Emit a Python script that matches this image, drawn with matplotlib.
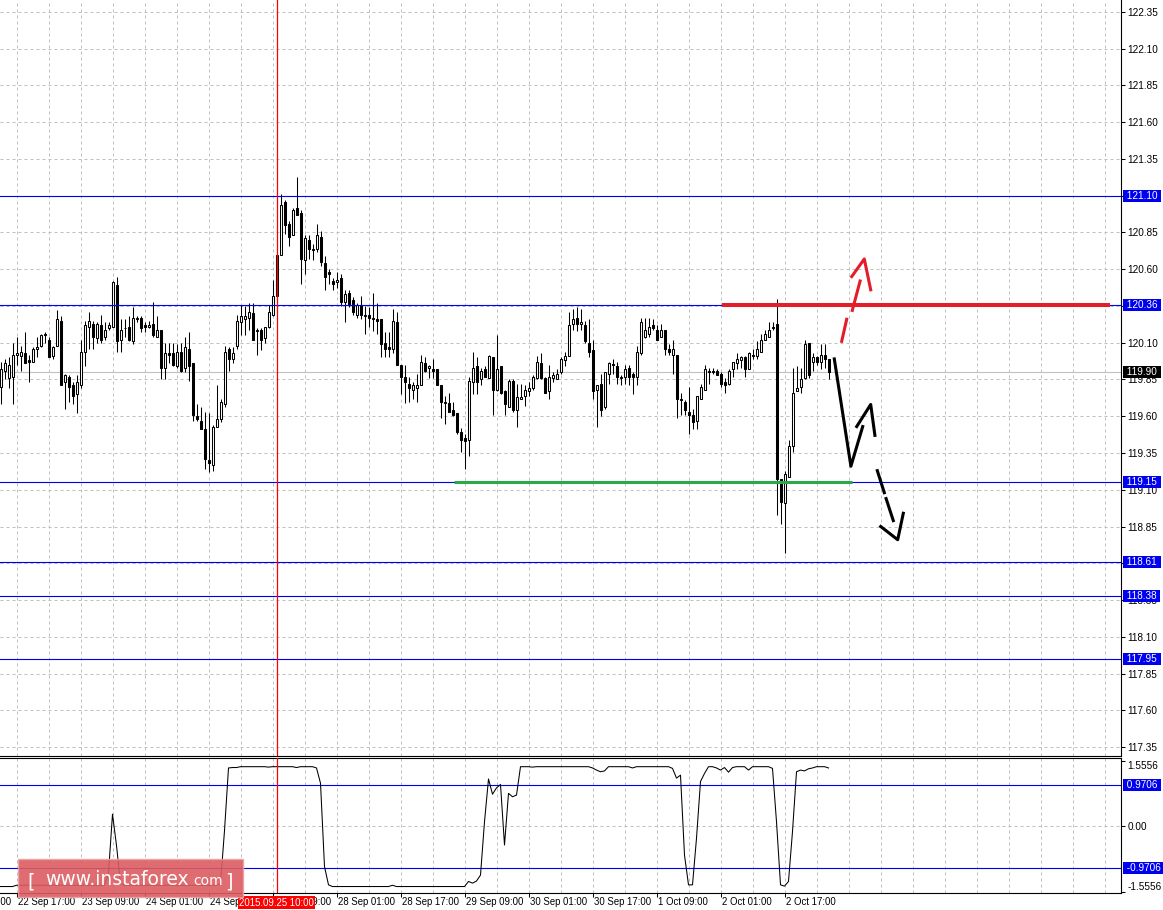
import matplotlib
matplotlib.use('Agg')
import matplotlib.pyplot as plt
import matplotlib.transforms as mtransforms
from matplotlib.patches import FancyBboxPatch
import numpy as np

# ---- H1 candles (bar index 0 = 22 Sep 13:00) ----
opens = [119.80, 119.91, 119.86, 119.87, 120.02, 120.01, 120.03, 119.98, 119.97, 120.06,
         120.08, 120.16, 120.12, 120.01, 120.08, 120.25, 119.83, 119.87, 119.81, 119.75,
         119.81, 120.04, 120.21, 120.23, 120.13, 120.22, 120.14, 120.20, 120.21, 120.49,
         120.12, 120.20, 120.21, 120.11, 120.26, 120.27, 120.22, 120.21, 120.23, 120.14,
         120.19, 119.93, 120.03, 120.03, 119.94, 120.04, 119.93, 120.06, 119.96, 119.60,
         119.57, 119.51, 119.30, 119.27, 119.53, 119.58, 119.68, 120.06, 119.99, 120.08,
         120.24, 120.26, 120.27, 120.30, 120.18, 120.19, 120.13, 120.21, 120.29, 120.42,
         120.70, 121.06, 120.91, 120.83, 121.02, 120.98, 120.66, 120.80, 120.74, 120.74,
         120.82, 120.64, 120.58, 120.52, 120.51, 120.54, 120.38, 120.44, 120.39, 120.29,
         120.36, 120.29, 120.29, 120.26, 120.26, 120.26, 120.10, 120.07, 120.06, 120.24,
         119.95, 119.87, 119.82, 119.78, 119.79, 119.81, 119.96, 119.93, 119.92, 119.92,
         119.81, 119.69, 119.69, 119.64, 119.62, 119.49, 119.45, 119.44, 119.83, 119.94,
         119.85, 119.92, 119.86, 120.00, 119.78, 119.94, 119.77, 119.66, 119.84, 119.64,
         119.72, 119.74, 119.77, 119.79, 119.86, 119.96, 119.86, 119.77, 119.86, 119.85,
         119.90, 119.98, 120.01, 120.23, 120.27, 120.23, 120.22, 120.10, 120.05, 119.78,
         119.82, 119.66, 119.89, 119.955, 119.94, 119.86, 119.87, 119.93, 119.89, 119.87,
         120.03, 120.14, 120.16, 120.22, 120.19, 120.14, 120.19, 120.06, 120.02, 120.02,
         119.72, 119.70, 119.63, 119.61, 119.57, 119.72, 119.78, 119.91, 119.91, 119.91,
         119.89, 119.83, 119.82, 119.92, 119.96, 119.98, 120.00, 119.92, 120.02, 120.01,
         120.04, 120.12, 120.14, 120.20, 120.23, 119.17, 119.01, 119.19, 119.40, 119.77,
         119.80, 119.86, 120.10, 119.97, 120.00, 119.97, 120.02, 119.99]
highs = [119.97, 119.99, 120.00, 120.10, 120.14, 120.08, 120.17, 120.02, 120.07, 120.14,
         120.16, 120.17, 120.14, 120.08, 120.32, 120.28, 119.89, 119.88, 119.83, 119.88,
         120.12, 120.25, 120.31, 120.25, 120.24, 120.29, 120.24, 120.24, 120.52, 120.55,
         120.26, 120.26, 120.28, 120.34, 120.28, 120.28, 120.24, 120.25, 120.38, 120.28,
         120.19, 120.10, 120.10, 120.10, 120.09, 120.10, 120.14, 120.17, 119.96, 119.68,
         119.66, 119.63, 119.62, 119.54, 119.81, 119.72, 120.08, 120.07, 120.07, 120.29,
         120.36, 120.35, 120.37, 120.37, 120.20, 120.20, 120.21, 120.36, 120.53, 120.72,
         121.11, 121.07, 120.93, 121.02, 121.23, 121.00, 120.83, 120.83, 120.77, 120.91,
         120.86, 120.69, 120.60, 120.54, 120.58, 120.57, 120.46, 120.46, 120.41, 120.37,
         120.42, 120.35, 120.34, 120.44, 120.37, 120.26, 120.17, 120.17, 120.33, 120.31,
         119.95, 119.95, 119.87, 119.83, 119.89, 120.02, 120.00, 119.95, 119.99, 119.92,
         119.81, 119.74, 119.76, 119.70, 119.62, 119.52, 119.48, 119.87, 120.04, 120.00,
         119.93, 119.94, 120.02, 120.00, 120.15, 119.94, 119.78, 119.85, 119.85, 119.82,
         119.82, 119.81, 119.83, 119.88, 120.01, 120.03, 119.87, 119.95, 119.90, 119.92,
         120.00, 120.04, 120.31, 120.33, 120.34, 120.33, 120.25, 120.26, 120.12, 119.81,
         119.89, 119.90, 119.97, 119.99, 119.97, 119.88, 119.95, 119.95, 119.90, 120.08,
         120.27, 120.27, 120.27, 120.26, 120.22, 120.23, 120.19, 120.09, 120.12, 120.02,
         119.76, 119.71, 119.80, 119.65, 119.74, 119.82, 119.95, 119.93, 119.93, 119.92,
         119.90, 119.86, 119.92, 119.97, 120.03, 120.01, 120.01, 120.04, 120.06, 120.11,
         120.16, 120.19, 120.24, 120.24, 120.40, 119.17, 119.23, 119.44, 119.93, 119.94,
         119.93, 120.12, 120.10, 120.03, 120.01, 120.09, 120.09, 119.99]
lows = [119.68, 119.85, 119.79, 119.68, 119.95, 119.91, 119.96, 119.83, 119.97, 120.00,
        120.07, 120.10, 120.00, 119.99, 120.08, 119.81, 119.65, 119.70, 119.68, 119.62,
        119.79, 119.94, 120.06, 120.06, 120.10, 120.10, 120.12, 120.19, 120.21, 120.04,
        120.04, 120.14, 120.11, 120.09, 120.24, 120.17, 120.17, 120.20, 120.14, 120.14,
        119.85, 119.85, 119.96, 119.94, 119.93, 119.90, 119.90, 119.84, 119.57, 119.57,
        119.51, 119.24, 119.22, 119.23, 119.53, 119.56, 119.66, 119.91, 119.96, 120.06,
        120.15, 120.15, 120.19, 120.12, 120.02, 120.05, 120.10, 120.20, 120.28, 120.42,
        120.70, 120.84, 120.76, 120.83, 120.97, 120.50, 120.57, 120.67, 120.66, 120.72,
        120.62, 120.46, 120.50, 120.46, 120.47, 120.35, 120.24, 120.34, 120.29, 120.27,
        120.26, 120.16, 120.21, 120.18, 120.16, 120.00, 120.00, 120.00, 120.03, 119.95,
        119.75, 119.69, 119.70, 119.72, 119.70, 119.81, 119.90, 119.86, 119.86, 119.81,
        119.59, 119.55, 119.63, 119.60, 119.48, 119.36, 119.24, 119.33, 119.75, 119.75,
        119.81, 119.87, 119.86, 119.61, 119.77, 119.75, 119.61, 119.66, 119.63, 119.53,
        119.72, 119.67, 119.74, 119.78, 119.85, 119.85, 119.76, 119.72, 119.83, 119.85,
        119.89, 119.94, 120.01, 120.19, 120.18, 120.19, 120.10, 120.00, 119.72, 119.53,
        119.60, 119.65, 119.82, 119.89, 119.82, 119.81, 119.82, 119.81, 119.75, 119.81,
        120.02, 120.13, 120.14, 120.19, 120.12, 120.14, 120.02, 120.02, 119.89, 119.59,
        119.61, 119.61, 119.48, 119.51, 119.51, 119.72, 119.78, 119.82, 119.89, 119.88,
        119.80, 119.76, 119.81, 119.87, 119.92, 119.93, 119.87, 119.92, 119.99, 119.99,
        120.04, 120.12, 120.14, 120.19, 118.93, 118.87, 118.67, 119.19, 119.36, 119.77,
        119.76, 119.85, 119.86, 119.91, 119.95, 119.92, 119.93, 119.85]
closes = [119.92, 119.96, 119.95, 120.02, 120.03, 120.04, 119.96, 119.97, 120.06, 120.07,
          120.15, 120.15, 120.00, 120.07, 120.26, 119.81, 119.88, 119.80, 119.74, 119.83,
          120.04, 120.22, 120.25, 120.14, 120.23, 120.12, 120.19, 120.22, 120.51, 120.11,
          120.19, 120.20, 120.12, 120.27, 120.27, 120.20, 120.21, 120.22, 120.15, 120.19,
          119.93, 120.03, 120.02, 119.95, 120.04, 119.91, 120.07, 119.94, 119.61, 119.58,
          119.51, 119.31, 119.28, 119.53, 119.58, 119.70, 120.04, 119.99, 120.03, 120.25,
          120.28, 120.28, 120.31, 120.12, 120.19, 120.12, 120.21, 120.31, 120.42, 120.70,
          121.04, 120.90, 120.82, 121.00, 120.97, 120.67, 120.81, 120.74, 120.73, 120.83,
          120.65, 120.55, 120.57, 120.50, 120.53, 120.38, 120.43, 120.36, 120.31, 120.36,
          120.29, 120.28, 120.27, 120.27, 120.25, 120.09, 120.06, 120.06, 120.25, 119.95,
          119.87, 119.83, 119.79, 119.81, 119.81, 119.97, 119.91, 119.94, 119.91, 119.81,
          119.70, 119.70, 119.63, 119.61, 119.49, 119.44, 119.43, 119.84, 119.93, 119.83,
          119.91, 119.87, 120.01, 119.78, 119.92, 119.76, 119.68, 119.84, 119.64, 119.73,
          119.73, 119.78, 119.79, 119.87, 119.97, 119.86, 119.76, 119.87, 119.88, 119.89,
          119.99, 120.01, 120.22, 120.26, 120.23, 120.24, 120.11, 120.04, 119.77, 119.81,
          119.64, 119.90, 119.96, 119.95, 119.87, 119.87, 119.92, 119.87, 119.87, 120.04,
          120.24, 120.19, 120.21, 120.20, 120.12, 120.19, 120.06, 120.04, 120.06, 119.72,
          119.71, 119.64, 119.61, 119.56, 119.74, 119.80, 119.92, 119.90, 119.90, 119.88,
          119.82, 119.81, 119.91, 119.97, 119.99, 120.00, 119.92, 120.03, 120.01, 120.06,
          120.12, 120.16, 120.19, 120.21, 119.17, 119.02, 119.21, 119.40, 119.76, 119.79,
          119.85, 120.09, 119.88, 120.00, 119.97, 120.02, 119.99, 119.90]

# ---- oscillator in the lower window ----
osc = [-1.42, -1.42, -1.42, -1.42, -1.39, -1.39, -1.39, -1.39, -1.39, -1.39,
       -1.39, -1.39, -1.39, -1.39, -1.39, -1.39, -1.39, -1.39, -1.39, -1.39,
       -1.39, -1.39, -1.39, -1.39, -1.39, -1.39, -1.39, -1.10, 0.29, -0.45,
       -1.35, -1.39, -1.39, -1.39, -1.39, -1.39, -1.39, -1.39, -1.39, -1.39,
       -1.39, -1.39, -1.39, -1.39, -1.39, -1.39, -1.39, -1.39, -1.39, -1.39,
       -1.39, -1.39, -1.39, -1.39, -1.39, -1.35, -0.10, 1.38, 1.39, 1.39,
       1.41, 1.41, 1.41, 1.41, 1.41, 1.41, 1.41, 1.40, 1.41, 1.41,
       1.41, 1.41, 1.41, 1.41, 1.39, 1.41, 1.41, 1.41, 1.41, 1.38,
       1.02, -0.95, -1.38, -1.42, -1.42, -1.42, -1.42, -1.42, -1.42, -1.42,
       -1.42, -1.42, -1.42, -1.42, -1.42, -1.42, -1.42, -1.42, -1.39, -1.42,
       -1.42, -1.42, -1.42, -1.42, -1.42, -1.42, -1.42, -1.42, -1.42, -1.42,
       -1.42, -1.42, -1.42, -1.42, -1.42, -1.42, -1.42, -1.30, -1.34, -1.29,
       -1.15, 0.11, 1.12, 0.76, 0.91, 0.99, -0.44, 0.78, 0.70, 0.74,
       1.41, 1.41, 1.41, 1.40, 1.41, 1.41, 1.41, 1.41, 1.41, 1.41,
       1.41, 1.41, 1.41, 1.41, 1.41, 1.41, 1.41, 1.41, 1.38, 1.33,
       1.29, 1.31, 1.41, 1.41, 1.41, 1.41, 1.41, 1.41, 1.38, 1.41,
       1.41, 1.41, 1.41, 1.41, 1.41, 1.41, 1.41, 1.41, 1.37, 1.14,
       1.21, -0.68, -1.38, -1.38, -0.28, 1.06, 1.25, 1.41, 1.41, 1.38,
       1.33, 1.39, 1.28, 1.39, 1.41, 1.41, 1.41, 1.33, 1.41, 1.41,
       1.41, 1.41, 1.41, 1.37, 0.11, -1.38, -1.41, -1.30, -0.12, 1.29,
       1.33, 1.31, 1.36, 1.38, 1.41, 1.41, 1.41, 1.38]

# ---- horizontal levels / labels ----
blue_levels = [121.10, 120.36, 119.15, 118.61, 118.38, 117.95]
bid_price = 119.90
hidden_ticks = [121.10, 120.35, 118.60]   # fully under the level boxes
osc_levels = [0.9706, -0.9706]
osc_scale = 1.5556
marked_bar = 69
marked_label = '2015.09.25 10:00'
time_ticks = [-12, 4, 20, 36, 52, 68, 84, 100, 116, 132, 148, 164, 180, 196]
time_labels = ['22 Sep 01:00', '22 Sep 17:00', '23 Sep 09:00', '24 Sep 01:00', '24 Sep 17:00',
               '25 Sep 09:00', '28 Sep 01:00', '28 Sep 17:00', '29 Sep 09:00', '30 Sep 01:00',
               '30 Sep 17:00', '1 Oct 09:00', '2 Oct 01:00', '2 Oct 17:00']

# ---- hand-drawn analysis objects (bar index, price) ----
resist_x, resist_y = [180.4, 277.4], [120.36, 120.36]
support_x, support_y = [113.4, 212.8], [119.15, 119.15]
red_dash1 = ([210.3, 211.55], [120.11, 120.26])
red_dash2 = ([212.95, 214.9], [120.32, 120.52])
red_head = ([212.8, 215.95, 217.55], [120.55, 120.67, 120.46])
blk_path = ([208.45, 212.6, 215.55], [119.99, 119.26, 119.53])
blk_head = ([214.05, 217.55, 218.6], [119.53, 119.68, 119.47])
blk_dash1 = ([219.2, 220.95], [119.23, 119.08])
blk_dash2 = ([221.4, 223.2], [119.04, 118.89])
blk_head2 = ([220.05, 224.3, 225.7], [118.85, 118.76, 118.94])

W, H = 1163, 910
plt.rcParams['font.family'] = ['Liberation Sans', 'DejaVu Sans']
fig = plt.figure(figsize=(W / 100, H / 100), dpi=100)


def box(x0, y0, x1, y1):
    return [x0 / W, 1 - y1 / H, (x1 - x0) / W, (y1 - y0) / H]


ax = fig.add_axes(box(0, 0, 1121, 756))
ax2 = fig.add_axes(box(0, 758, 1121, 893))

xmin, xmax = -0.125, 280.125
grid_kw = dict(color='#c0c0c0', lw=0.72, ls=(0, (3, 3)))
FS = 7.2
BLUE = '#0000f0'

# ---------------- main price window ----------------
idx = np.arange(len(closes))
o = np.array(opens)
c = np.array(closes)
up = c >= o
ax.vlines(idx, lows, highs, color='black', lw=0.75, zorder=3)
ax.bar(idx, c - o, bottom=o, width=0.5, color=np.where(up, 'white', 'black'),
       edgecolor='black', linewidth=0.75, zorder=4)

ax.axhline(bid_price, color='#c0c0c0', lw=0.8, zorder=2)
for lvl in blue_levels:
    ax.axhline(lvl, color=BLUE, lw=0.8, zorder=5)
ax.axvline(marked_bar, color='#ff0000', lw=0.9, zorder=6)

ax.plot(resist_x, resist_y, color='#e41d2b', lw=2.9, solid_capstyle='butt', zorder=7)
ax.plot(support_x, support_y, color='#2aa84a', lw=2.2, solid_capstyle='butt', zorder=7)
for seg in [red_dash1, red_dash2, red_head]:
    ax.plot(seg[0], seg[1], color='#e41d2b', lw=2.2, zorder=8)
for seg in [blk_path, blk_head, blk_dash1, blk_dash2, blk_head2]:
    ax.plot(seg[0], seg[1], color='black', lw=2.2, zorder=8)

ax.set_xlim(xmin, xmax)
ax.set_ylim(117.2888, 122.4316)
ax.set_yticks(np.round(np.arange(117.35, 122.36, 0.25), 2))
ax.yaxis.set_major_formatter(matplotlib.ticker.FuncFormatter(
    lambda v, p: '' if any(abs(v - h) < 1e-6 for h in hidden_ticks) else '%.2f' % v))
ax.yaxis.tick_right()
ax.tick_params(axis='y', length=3, width=0.75, pad=1.5, labelsize=FS, direction='out')
ax.set_xticks(np.arange(4, 280, 8))
ax.tick_params(axis='x', length=0, labelbottom=False)
ax.grid(True, **grid_kw)
ax.set_axisbelow(True)
for s in ['left', 'top']:
    ax.spines[s].set_visible(False)
for s in ['right', 'bottom']:
    ax.spines[s].set_linewidth(0.8)

rtrans = mtransforms.offset_copy(
    mtransforms.blended_transform_factory(ax.transAxes, ax.transData), fig=fig, x=3, y=0, units='dots')
for lvl in blue_levels:
    ax.text(1.0, lvl, ' %.2f ' % lvl, transform=rtrans, ha='left', va='center', color='white',
            fontsize=FS, clip_on=False, zorder=10,
            bbox=dict(boxstyle='square,pad=0.1', fc=BLUE, ec='none'))
ax.text(1.0, bid_price, ' %.2f ' % bid_price, transform=rtrans, ha='left', va='center', color='white',
        fontsize=FS, clip_on=False, zorder=10,
        bbox=dict(boxstyle='square,pad=0.1', fc='black', ec='none'))

# ---------------- oscillator window ----------------
ax2.plot(np.arange(len(osc)), osc, color='black', lw=0.75, zorder=4)
for lvl in osc_levels:
    ax2.axhline(lvl, color=BLUE, lw=0.8, zorder=3)
ax2.axhline(0, zorder=1, **grid_kw)
ax2.axvline(marked_bar, color='#ff0000', lw=0.9, zorder=6)
ax2.set_xlim(xmin, xmax)
ax2.set_ylim(-1.5726, 1.6151)

major = [t for t in time_ticks if t >= 0]
ax2.set_xticks(major)
ax2.set_xticks([t for t in np.arange(4, 280, 8) if t not in major], minor=True)
ax2.tick_params(axis='x', which='major', length=3, width=0.75, labelbottom=False)
ax2.tick_params(axis='x', which='minor', length=0)
ax2.grid(True, axis='x', which='both', **grid_kw)
ax2.set_axisbelow(True)

ax2.yaxis.tick_right()
ax2.set_yticks([-osc_scale, 0, osc_scale])
ax2.set_yticklabels(['-1.5556', '0.00', '1.5556'])
ax2.tick_params(axis='y', length=3, width=0.75, pad=1.5, labelsize=FS, direction='out')
ylabs = ax2.get_yticklabels()
ylabs[0].set_va('bottom')
ylabs[2].set_va('top')
ax2.spines['left'].set_visible(False)
for s in ['right', 'bottom', 'top']:
    ax2.spines[s].set_linewidth(0.8)

rtrans2 = mtransforms.offset_copy(
    mtransforms.blended_transform_factory(ax2.transAxes, ax2.transData), fig=fig, x=3, y=0, units='dots')
for lvl in osc_levels:
    ax2.text(1.0, lvl, ' %.4f ' % lvl, transform=rtrans2, ha='left', va='center', color='white',
             fontsize=FS, clip_on=False, zorder=10,
             bbox=dict(boxstyle='square,pad=0.1', fc=BLUE, ec='none'))

# time labels under the oscillator window
ttrans = mtransforms.offset_copy(
    mtransforms.blended_transform_factory(ax2.transData, ax2.transAxes), fig=fig, x=1.5, y=-4, units='dots')
for t, lab in zip(time_ticks, time_labels):
    ax2.text(t, 0, lab, transform=ttrans, ha='left', va='top', fontsize=6.9, clip_on=False)
ctrans = mtransforms.offset_copy(
    mtransforms.blended_transform_factory(ax2.transData, ax2.transAxes), fig=fig, x=0, y=-4.5, units='dots')
ax2.text(marked_bar, 0, marked_label, transform=ctrans, ha='center', va='top', fontsize=6.9,
         color='white', clip_on=False, zorder=10,
         bbox=dict(boxstyle='square,pad=0.15', fc='red', ec='none'))

# ---------------- watermark ----------------
wm = FancyBboxPatch((18 / W, 1 - 897 / H), 225 / W, 38 / H, boxstyle='square,pad=0',
                    transform=fig.transFigure, fc='#dc5c61', ec='#eaa3a5', lw=1.0, alpha=0.9, zorder=20)
fig.patches.append(wm)
wkw = dict(color='white', family='DejaVu Sans', zorder=21, va='baseline')
fig.text(27 / W, 1 - 887 / H, '[', fontsize=14, **wkw)
fig.text(45 / W, 1 - 885 / H, 'www.instaforex', fontsize=13.5, **wkw)
fig.text(193 / W, 1 - 885 / H, 'com', fontsize=10, **wkw)
fig.text(225 / W, 1 - 887 / H, ']', fontsize=14, **wkw)

fig.savefig('out.png', dpi=100)
